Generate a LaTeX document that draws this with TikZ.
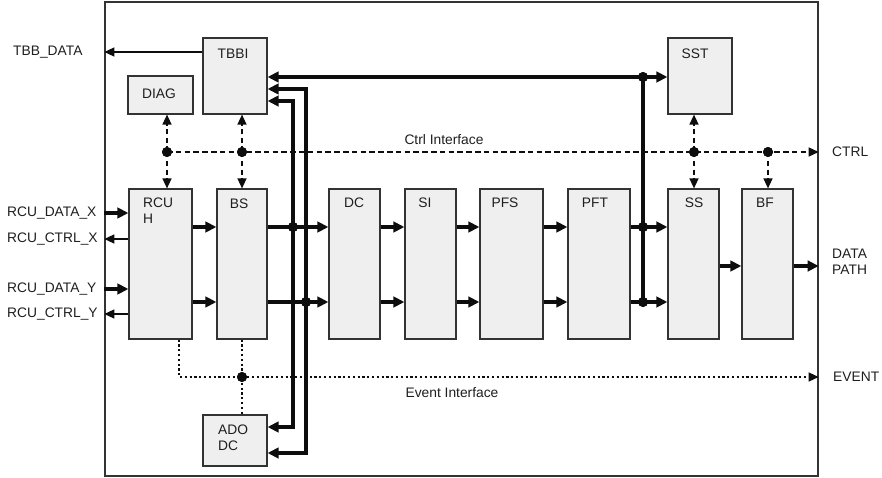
\documentclass[tikz,border=0pt]{standalone}
\usepackage{fontspec}
\setmainfont{Liberation Sans}
\usetikzlibrary{arrows.meta,calc}
\definecolor{edge}{HTML}{333333}
\definecolor{boxfill}{HTML}{EFEFEF}
\definecolor{txt}{HTML}{1E1E1E}
\definecolor{ink}{HTML}{0D0D0D}
\begin{document}
\begin{tikzpicture}[x=1pt,y=-1pt,
  blk/.style={draw=edge, fill=boxfill, line width=1.2pt, inner sep=0pt},
  lbl/.style={font=\fontsize{13.8}{16}\selectfont, text=txt, inner sep=0pt},
  tipbig/.tip={Triangle[length=11pt 0,width=10.5pt 0]},
  tipsml/.tip={Triangle[length=10pt 0,width=9pt 0]},
  thk/.style={draw=ink, line width=3.2pt, line join=miter},
  bus/.style={draw=ink, line width=3.4pt, line join=miter},
  thn/.style={draw=ink, line width=1.3pt},
  dsh/.style={draw=ink, line width=1.4pt, dash pattern=on 5.5pt off 3.3pt},
  dtd/.style={draw=ink, line width=1.3pt, dash pattern=on 2.2pt off 2.6pt},
  jn/.style={circle, fill=ink, inner sep=0pt, minimum size=10pt}
]
\useasboundingbox (0,0) rectangle (882,478);

% frame
\node[draw=edge, line width=1.4pt, minimum width=713pt, minimum height=474pt, inner sep=0pt] (frame) at (461.5,239) {};

% blocks
\node[blk, minimum width=64pt, minimum height=76pt] (tbbi) at (235,76) {};
\node[blk, minimum width=65pt, minimum height=38pt] (diag) at (160.5,95) {};
\node[blk, minimum width=64pt, minimum height=76pt] (sst) at (700,76) {};
\node[blk, minimum width=63pt, minimum height=150pt] (rcuh) at (160.5,264) {};
\node[blk, minimum width=50pt, minimum height=150pt] (bs) at (242,264) {};
\node[blk, minimum width=51pt, minimum height=150pt] (dc) at (354.5,264) {};
\node[blk, minimum width=51pt, minimum height=150pt] (si) at (430.5,264) {};
\node[blk, minimum width=63pt, minimum height=150pt] (pfs) at (511.5,264) {};
\node[blk, minimum width=62pt, minimum height=150pt] (pft) at (599,264) {};
\node[blk, minimum width=51pt, minimum height=150pt] (ss) at (693.5,264) {};
\node[blk, minimum width=51pt, minimum height=150pt] (bf) at (767.5,264) {};
\node[blk, minimum width=64pt, minimum height=51pt] (adodc) at (235,440.5) {};

% block labels
\node[lbl] (tbbi-l) at (233,54) {TBBI};
\node[lbl] (diag-l) at (159,94) {DIAG};
\node[lbl] (sst-l) at (695,54) {SST};
\node[lbl, align=left, anchor=west] (rcuh-l) at (143,211) {RCU\\H};
\node[lbl] (bs-l) at (239,204) {BS};
\node[lbl] (dc-l) at (354,203) {DC};
\node[lbl] (si-l) at (425,203) {SI};
\node[lbl] (pfs-l) at (505,203) {PFS};
\node[lbl] (pft-l) at (595,203) {PFT};
\node[lbl] (ss-l) at (694,203) {SS};
\node[lbl] (bf-l) at (765,203) {BF};
\node[lbl, align=left, anchor=west] (adodc-l) at (218,438) {ADO\\DC};

% outside labels
\node[lbl, anchor=west] (tbbdata) at (13,52) {TBB\_DATA};
\node[lbl, anchor=west] (rdx) at (7,213) {RCU\_DATA\_X};
\node[lbl, anchor=west] (rcx) at (7,239) {RCU\_CTRL\_X};
\node[lbl, anchor=west] (rdy) at (7,289) {RCU\_DATA\_Y};
\node[lbl, anchor=west] (rcy) at (7,314) {RCU\_CTRL\_Y};
\node[lbl, anchor=west] (ctrl) at (832,152) {CTRL};
\node[lbl, anchor=west, align=left] (datapath) at (832,262) {DATA\\PATH};
\node[lbl, anchor=west] (event) at (833,377) {EVENT};
\node[lbl] (ctrlif) at (444,140) {Ctrl Interface};
\node[lbl] (evif) at (452,393) {Event Interface};

% row coordinates
\coordinate (ytbb) at (0,52);
\coordinate (yrdx) at (0,213);
\coordinate (yrcx) at (0,239);
\coordinate (yrdy) at (0,289);
\coordinate (yrcy) at (0,314);
\coordinate (r1) at (0,227);
\coordinate (r2) at (0,302);
\coordinate (r3) at (0,266);

% junctions
\node[jn] (j1) at (643,77) {};
\node[jn] (j2) at (643,227) {};
\node[jn] (j3) at (643,302) {};
\node[jn] (j4) at (293,227) {};
\node[jn] (j5) at (306,302) {};
\node[jn] (c1) at (167,152) {};
\node[jn] (c2) at (242,152) {};
\node[jn] (c3) at (694,152) {};
\node[jn] (c4) at (768,152) {};
\node[jn] (e1) at (242,377) {};
\coordinate (e0) at (179,377);
\coordinate (b2t) at (306,89);
\coordinate (b2b) at (306,453);
\coordinate (b3t) at (293,101);
\coordinate (b3b) at (293,427);

% TBB data
\draw[thn,-tipsml] (tbbi.west |- ytbb) -- (frame.west |- ytbb);

% RCU ports
\draw[thk,-tipbig] (frame.west |- yrdx) -- (rcuh.west |- yrdx);
\draw[thn,-tipsml] (rcuh.west |- yrcx) -- (frame.west |- yrcx);
\draw[thk,-tipbig] (frame.west |- yrdy) -- (rcuh.west |- yrdy);
\draw[thn,-tipsml] (rcuh.west |- yrcy) -- (frame.west |- yrcy);

% data path
\foreach \r in {r1,r2}{
  \draw[thk,-tipbig] (rcuh.east |- \r) -- (bs.west |- \r);
  \draw[thk,-tipbig] (bs.east |- \r) -- (dc.west |- \r);
  \draw[thk,-tipbig] (dc.east |- \r) -- (si.west |- \r);
  \draw[thk,-tipbig] (si.east |- \r) -- (pfs.west |- \r);
  \draw[thk,-tipbig] (pfs.east |- \r) -- (pft.west |- \r);
  \draw[thk,-tipbig] (pft.east |- \r) -- (ss.west |- \r);
}
\draw[thk,-tipbig] (ss.east |- r3) -- (bf.west |- r3);
\draw[thk,-tipbig] (bf.east |- r3) -- (frame.east |- r3);

% buses
\draw[bus,-tipbig] (j1.center) -- (tbbi.east |- j1);
\draw[bus,-tipbig] (j1.center) -- (sst.west |- j1);
\draw[bus] (j1.center) -- (j3.center);
\draw[bus,tipbig-tipbig] (tbbi.east |- b2t) -- (b2t) -- (b2b) -- (adodc.east |- b2b);
\draw[bus,tipbig-tipbig] (tbbi.east |- b3t) -- (b3t) -- (b3b) -- (adodc.east |- b3b);

% ctrl interface
\draw[dsh,-tipsml] (c1.center) -- (frame.east |- c1);
\draw[dsh,-tipsml] (c1.center) -- (diag.south -| c1);
\draw[dsh,-tipsml] (c1.center) -- (rcuh.north -| c1);
\draw[dsh,-tipsml] (c2.center) -- (tbbi.south -| c2);
\draw[dsh,-tipsml] (c2.center) -- (bs.north -| c2);
\draw[dsh,-tipsml] (c3.center) -- (sst.south -| c3);
\draw[dsh,-tipsml] (c3.center) -- (ss.north -| c3);
\draw[dsh,-tipsml] (c4.center) -- (bf.north -| c4);

% event interface
\draw[dtd,-tipsml] (rcuh.south -| e0) -- (e0) -- (frame.east |- e0);
\draw[dtd] (bs.south -| e1) -- (adodc.north -| e1);

% redraw junction dots on top
\foreach \j in {j1,j2,j3,j4,j5,c1,c2,c3,c4,e1}{
  \fill[ink] (\j.center) circle (5pt);
}
\end{tikzpicture}
\end{document}
